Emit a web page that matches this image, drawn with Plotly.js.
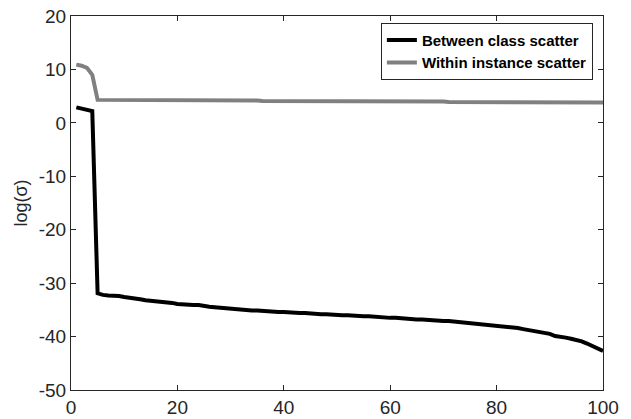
<!DOCTYPE html>
<html>
<head>
<meta charset="utf-8">
<script src="https://cdn.plot.ly/plotly-3.0.1.min.js"></script>
<style>body{margin:0;padding:0;background:#fff}#chart{width:631px;height:419px}</style>
</head>
<body>
<div id="chart"></div>
<script>
const seriesNames = ["Between class scatter", "Within instance scatter"];
const betweenClass = [2.9,2.7,2.5,2.2,-31.9,-32.2,-32.3,-32.3,-32.4,-32.6,
-32.7,-32.8,-33.0,-33.2,-33.3,-33.3,-33.4,-33.5,-33.7,-33.9,
-34.0,-34.0,-34.1,-34.1,-34.3,-34.4,-34.5,-34.6,-34.7,-34.8,
-34.9,-34.9,-35.0,-35.1,-35.1,-35.2,-35.3,-35.3,-35.4,-35.4,
-35.5,-35.5,-35.6,-35.6,-35.7,-35.7,-35.8,-35.8,-35.9,-35.9,
-36.0,-36.0,-36.1,-36.1,-36.2,-36.2,-36.3,-36.3,-36.4,-36.5,
-36.5,-36.6,-36.6,-36.7,-36.8,-36.8,-36.9,-36.9,-37.0,-37.1,
-37.1,-37.2,-37.3,-37.4,-37.5,-37.5,-37.6,-37.7,-37.9,-38.0,
-38.0,-38.1,-38.3,-38.4,-38.6,-38.8,-38.9,-39.1,-39.3,-39.5,
-39.9,-40.0,-40.2,-40.4,-40.6,-40.9,-41.3,-41.8,-42.1,-42.7];
const withinInstance = [10.9,10.7,10.3,9.0,4.3,4.3,4.3,4.3,4.3,4.3,
4.3,4.3,4.3,4.3,4.3,4.2,4.2,4.2,4.2,4.2,
4.2,4.2,4.2,4.2,4.2,4.2,4.2,4.2,4.2,4.2,
4.2,4.2,4.2,4.2,4.2,4.1,4.1,4.1,4.1,4.1,
4.1,4.1,4.1,4.1,4.1,4.1,4.1,4.1,4.1,4.1,
4.1,4.1,4.1,4.1,4.1,4.0,4.0,4.0,4.0,4.0,
4.0,4.0,4.0,4.0,4.0,4.0,4.0,4.0,4.0,4.0,
3.9,3.9,3.9,3.9,3.9,3.9,3.9,3.9,3.9,3.9,
3.9,3.9,3.9,3.9,3.9,3.8,3.8,3.8,3.8,3.8,
3.8,3.8,3.8,3.8,3.8,3.8,3.8,3.8,3.8,3.8];
const xIndex = betweenClass.map((_, i) => i + 1);
const xTicks = [0, 20, 40, 60, 80, 100];
const yTicks = [-50, -40, -30, -20, -10, 0, 10, 20];
const yTickLabels = ["-50", "-40", "-30", "-20", "-10", "0", "10", "20"];

const axisCommon = {
  showgrid: false, zeroline: false, showline: true, mirror: 'ticks',
  linecolor: '#262626', linewidth: 1, ticks: 'inside', ticklen: 5,
  tickcolor: '#262626', tickfont: {family: 'Arial, Liberation Sans', size: 19, color: '#262626'}
};

const traces = [
  {x: xIndex, y: betweenClass, name: seriesNames[0], mode: 'lines', line: {color: '#000000', width: 4}},
  {x: xIndex, y: withinInstance, name: seriesNames[1], mode: 'lines', line: {color: '#808080', width: 4}}
];

const layout = {
  width: 631, height: 419,
  margin: {l: 71, r: 28, t: 16, b: 29},
  paper_bgcolor: '#ffffff', plot_bgcolor: '#ffffff',
  showlegend: true,
  legend: {
    x: 0.981, y: 0.982, xanchor: 'right', yanchor: 'top',
    bgcolor: '#ffffff', bordercolor: '#262626', borderwidth: 1,
    font: {family: 'Arial, Liberation Sans', size: 15, color: '#000000', weight: 'bold'},
    tracegroupgap: 0, itemwidth: 30
  },
  xaxis: Object.assign({}, axisCommon, {range: [0, 100], tickvals: xTicks}),
  yaxis: Object.assign({}, axisCommon, {range: [-50, 20], tickvals: yTicks, ticktext: yTickLabels,
    title: {text: 'log(σ)', font: {family: 'Arial, Liberation Sans', size: 18, color: '#262626'}, standoff: 6}})
};

Plotly.newPlot('chart', traces, layout, {displayModeBar: false, staticPlot: true});
</script>
</body>
</html>
